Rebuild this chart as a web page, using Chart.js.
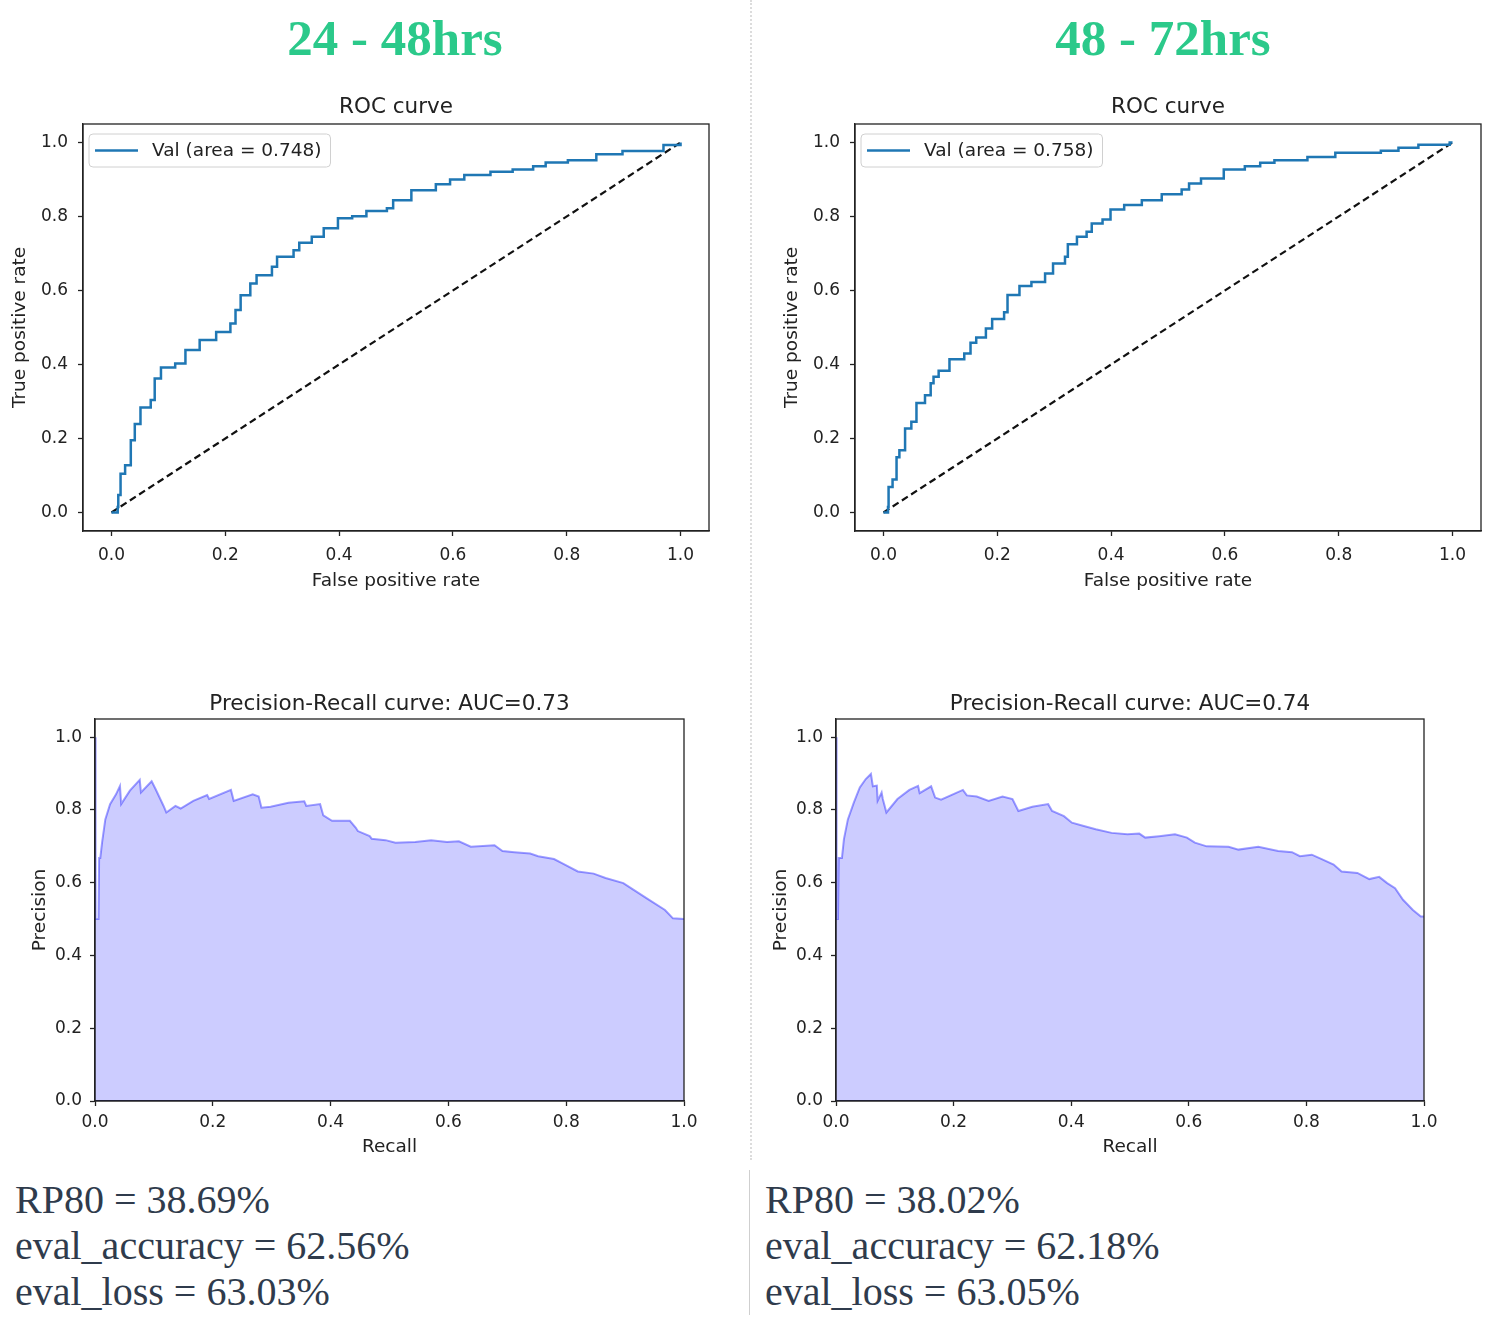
<!DOCTYPE html>
<html>
<head>
<meta charset="utf-8">
<script src="https://cdn.jsdelivr.net/npm/chart.js@4.4.1/dist/chart.umd.min.js"></script>
<style>
  body { margin: 0; background: #fff; width: 1500px; height: 1319px; position: relative; overflow: hidden; }
  canvas { position: absolute; }
  .heading { position: absolute; top: 10px; width: 790px; text-align: center; font: bold 51px "Liberation Serif", serif; line-height: 56px; color: #2bc98a; }
  .stats { position: absolute; top: 1177px; font: 40px "Liberation Serif", serif; line-height: 46px; color: #2f3b4c; white-space: nowrap; }
  .sep-dot { position: absolute; left: 750px; top: 0; height: 1160px; border-left: 2px dotted #dcdcdc; }
  .sep-line { position: absolute; left: 749px; top: 1170px; height: 145px; border-left: 1px solid #cfcfcf; }
</style>
</head>
<body>
<div class="heading" style="left:0">24 - 48hrs</div>
<div class="heading" style="left:768px">48 - 72hrs</div>
<div class="sep-dot"></div>
<div class="sep-line"></div>

<canvas id="roc48" width="728" height="504" style="left:0;top:92px"></canvas>
<canvas id="roc72" width="728" height="504" style="left:772px;top:92px"></canvas>
<canvas id="pr48" width="700" height="472" style="left:20px;top:689px"></canvas>
<canvas id="pr72" width="700" height="472" style="left:761px;top:689px"></canvas>

<div class="stats" style="left:15px">RP80 = 38.69%<br>eval_accuracy = 62.56%<br>eval_loss = 63.03%</div>
<div class="stats" style="left:765px">RP80 = 38.02%<br>eval_accuracy = 62.18%<br>eval_loss = 63.05%</div>

<script>
// tick positions shared by all axes
const tickValues = [0, 0.2, 0.4, 0.6, 0.8, 1.0];

// ROC 24-48hrs (fpr where tpr steps up, new tpr)
const roc48Fpr = [0, 0.011, 0.012, 0.016, 0.024, 0.034, 0.041, 0.051, 0.069, 0.076, 0.087, 0.112, 0.130, 0.155, 0.184, 0.209, 0.218, 0.227, 0.244, 0.255, 0.282, 0.291, 0.320, 0.330, 0.352, 0.373, 0.398, 0.423, 0.448, 0.484, 0.495, 0.527, 0.570, 0.595, 0.620, 0.666, 0.705, 0.741, 0.763, 0.802, 0.852, 0.898, 0.970, 1.0];
const roc48Tpr = [0, 0.015, 0.047, 0.105, 0.128, 0.195, 0.239, 0.284, 0.304, 0.362, 0.392, 0.403, 0.439, 0.466, 0.488, 0.511, 0.547, 0.587, 0.619, 0.641, 0.664, 0.691, 0.709, 0.729, 0.745, 0.768, 0.795, 0.801, 0.815, 0.822, 0.844, 0.871, 0.887, 0.900, 0.912, 0.921, 0.927, 0.936, 0.946, 0.952, 0.968, 0.977, 0.993, 1.0];

// ROC 48-72hrs
const roc72Fpr = [0, 0.008, 0.009, 0.016, 0.023, 0.028, 0.038, 0.049, 0.058, 0.073, 0.083, 0.088, 0.097, 0.116, 0.142, 0.153, 0.163, 0.180, 0.191, 0.212, 0.218, 0.239, 0.260, 0.284, 0.298, 0.319, 0.324, 0.340, 0.357, 0.366, 0.385, 0.399, 0.423, 0.454, 0.489, 0.524, 0.537, 0.558, 0.598, 0.635, 0.662, 0.687, 0.745, 0.794, 0.874, 0.905, 0.940, 0.995, 1.0];
const roc72Tpr = [0, 0.015, 0.069, 0.089, 0.149, 0.168, 0.227, 0.245, 0.296, 0.317, 0.349, 0.367, 0.383, 0.414, 0.430, 0.459, 0.473, 0.497, 0.523, 0.541, 0.588, 0.612, 0.623, 0.646, 0.673, 0.691, 0.725, 0.745, 0.759, 0.781, 0.792, 0.819, 0.831, 0.844, 0.860, 0.873, 0.889, 0.903, 0.927, 0.936, 0.945, 0.952, 0.961, 0.972, 0.978, 0.986, 0.994, 1.0, 1.0];

// Precision-recall 24-48hrs
const pr48Recall = [0, 0.001, 0.006, 0.007, 0.009, 0.012, 0.0175, 0.0256, 0.0357, 0.0424, 0.0444, 0.0592, 0.076, 0.078, 0.0962, 0.103, 0.1164, 0.1211, 0.1366, 0.1454, 0.1669, 0.1904, 0.1938, 0.2308, 0.2355, 0.2678, 0.2779, 0.2826, 0.2981, 0.3284, 0.3553, 0.3587, 0.3822, 0.3876, 0.4024, 0.4327, 0.4428, 0.4462, 0.4664, 0.4697, 0.4933, 0.5101, 0.5437, 0.5707, 0.5976, 0.6178, 0.638, 0.6783, 0.6918, 0.712, 0.7389, 0.7524, 0.7793, 0.7927, 0.8197, 0.8466, 0.8668, 0.897, 0.9139, 0.9408, 0.9677, 0.9812, 1.0];
const pr48Precision = [1.0, 0.5, 0.5, 0.668, 0.668, 0.71, 0.774, 0.816, 0.843, 0.866, 0.816, 0.853, 0.883, 0.848, 0.879, 0.857, 0.811, 0.793, 0.811, 0.804, 0.825, 0.841, 0.83, 0.855, 0.825, 0.843, 0.837, 0.806, 0.809, 0.82, 0.824, 0.811, 0.816, 0.785, 0.77, 0.77, 0.751, 0.742, 0.728, 0.721, 0.717, 0.71, 0.712, 0.717, 0.712, 0.714, 0.699, 0.703, 0.687, 0.684, 0.68, 0.673, 0.665, 0.654, 0.631, 0.625, 0.613, 0.599, 0.581, 0.553, 0.525, 0.502, 0.5];

// Precision-recall 48-72hrs
const pr72Recall = [0, 0.001, 0.0034, 0.0047, 0.0101, 0.0135, 0.0202, 0.0303, 0.0405, 0.0506, 0.0594, 0.0627, 0.0695, 0.0708, 0.0776, 0.0796, 0.0857, 0.1045, 0.1248, 0.1396, 0.1423, 0.1618, 0.1686, 0.1787, 0.1989, 0.2158, 0.2225, 0.2394, 0.2596, 0.2832, 0.3001, 0.3102, 0.3338, 0.3608, 0.3675, 0.3877, 0.4012, 0.4214, 0.4417, 0.4686, 0.4956, 0.5158, 0.5259, 0.5496, 0.5765, 0.5968, 0.6103, 0.6305, 0.6676, 0.6845, 0.7182, 0.7519, 0.7755, 0.789, 0.8092, 0.826, 0.8463, 0.8598, 0.8867, 0.9069, 0.9238, 0.9373, 0.9508, 0.9643, 0.9811, 0.9946, 1.0];
const pr72Precision = [1.0, 0.5, 0.5, 0.668, 0.668, 0.72, 0.774, 0.82, 0.862, 0.885, 0.899, 0.865, 0.867, 0.825, 0.848, 0.83, 0.793, 0.83, 0.855, 0.866, 0.846, 0.865, 0.834, 0.828, 0.843, 0.855, 0.84, 0.837, 0.825, 0.837, 0.83, 0.797, 0.809, 0.816, 0.797, 0.783, 0.765, 0.756, 0.747, 0.737, 0.733, 0.735, 0.724, 0.728, 0.733, 0.724, 0.71, 0.70, 0.699, 0.691, 0.699, 0.687, 0.684, 0.673, 0.677, 0.665, 0.65, 0.631, 0.627, 0.61, 0.616, 0.599, 0.585, 0.553, 0.525, 0.507, 0.507];

const diagonal = [0, 1];

Chart.defaults.font.family = '"DejaVu Sans", sans-serif';
Chart.defaults.color = '#222';

const toPoints = (xs, ys) => xs.map((x, i) => ({ x: x, y: ys[i] }));
const fmt = v => Number(v).toFixed(1);

// matplotlib-ish frame around the plot area
const framePlugin = {
  id: 'frame',
  afterDraw(chart) {
    const { ctx, chartArea: a } = chart;
    ctx.save();
    ctx.strokeStyle = '#222';
    ctx.lineWidth = 1.3;
    ctx.strokeRect(a.left, a.top, a.right - a.left, a.bottom - a.top);
    ctx.restore();
  }
};

// axes title centred over the plot area, not the whole canvas
const plotTitle = {
  id: 'plotTitle',
  afterDraw(chart, args, opts) {
    const { ctx, chartArea: a } = chart;
    ctx.save();
    ctx.font = '21.5px "DejaVu Sans"';
    ctx.fillStyle = '#222';
    ctx.textAlign = 'center';
    ctx.textBaseline = 'middle';
    ctx.fillText(opts.text, (a.left + a.right) / 2, a.top - opts.gap);
    ctx.restore();
  }
};

// legend box drawn inside the axes, upper left
const innerLegend = {
  id: 'innerLegend',
  afterDraw(chart) {
    const ds = chart.data.datasets[0];
    const { ctx, chartArea: a } = chart;
    ctx.save();
    ctx.font = '18.5px "DejaVu Sans"';
    const tw = ctx.measureText(ds.label).width;
    const x = a.left + 6, y = a.top + 10, w = tw + 72, h = 33;
    ctx.fillStyle = 'rgba(255,255,255,0.85)';
    ctx.strokeStyle = '#d0d0d0';
    ctx.lineWidth = 1;
    ctx.beginPath();
    ctx.roundRect(x, y, w, h, 4);
    ctx.fill();
    ctx.stroke();
    ctx.strokeStyle = ds.borderColor;
    ctx.lineWidth = 2.5;
    ctx.beginPath();
    ctx.moveTo(x + 6, y + h / 2);
    ctx.lineTo(x + 49, y + h / 2);
    ctx.stroke();
    ctx.fillStyle = '#222';
    ctx.textBaseline = 'middle';
    ctx.fillText(ds.label, x + 63, y + h / 2 + 1);
    ctx.restore();
  }
};

function axis(opts) {
  return {
    type: 'linear',
    min: opts.min,
    max: opts.max,
    afterBuildTicks: s => { s.ticks = tickValues.map(v => ({ value: v })); },
    afterFit: s => {
      if (opts.width) s.width = opts.width;
      if (opts.height) s.height = opts.height;
    },
    grid: { display: true, drawOnChartArea: false, drawTicks: true, tickLength: 5, tickColor: '#222', tickWidth: 1.3 },
    border: { display: true, color: '#222', width: 1.3 },
    ticks: { font: { size: 17 }, color: '#222', padding: opts.pad, callback: fmt, autoSkip: false, maxRotation: 0 },
    title: { display: true, text: opts.title, font: { size: 18.5 }, color: '#222', padding: opts.titlePad }
  };
}

function rocChart(id, fpr, tpr, label) {
  new Chart(document.getElementById(id), {
    type: 'line',
    data: {
      datasets: [
        { label: label, data: toPoints(fpr, tpr), borderColor: '#1f77b4', borderWidth: 2.5, stepped: 'before', pointRadius: 0, fill: false },
        { label: 'chance', data: toPoints(diagonal, diagonal), borderColor: '#111', borderWidth: 2.2, borderDash: [7, 4], pointRadius: 0, fill: false }
      ]
    },
    options: {
      responsive: false,
      animation: false,
      layout: { padding: { left: 0, right: 19, top: 32, bottom: 0 } },
      plugins: {
        legend: { display: false },
        tooltip: { enabled: false },
        title: { display: false },
        plotTitle: { text: 'ROC curve', gap: 17 }
      },
      scales: {
        x: axis({ min: -0.05, max: 1.05, height: 65, pad: 9, title: 'False positive rate', titlePad: { top: 0, bottom: 4 } }),
        y: axis({ min: -0.05, max: 1.05, width: 83, pad: 10, title: 'True positive rate', titlePad: { top: 9, bottom: 0 } })
      }
    },
    plugins: [framePlugin, innerLegend, plotTitle]
  });
}

function prChart(id, recall, precision, title, rightPad) {
  new Chart(document.getElementById(id), {
    type: 'line',
    data: {
      datasets: [
        { label: 'PR', data: toPoints(recall, precision), borderColor: 'rgba(0,0,255,0.38)', backgroundColor: 'rgba(0,0,255,0.2)', borderWidth: 2, pointRadius: 0, fill: 'origin' }
      ]
    },
    options: {
      responsive: false,
      animation: false,
      layout: { padding: { left: 0, right: rightPad, top: 30, bottom: 0 } },
      plugins: {
        legend: { display: false },
        tooltip: { enabled: false },
        title: { display: false },
        plotTitle: { text: title, gap: 15 }
      },
      scales: {
        x: axis({ min: 0, max: 1, height: 60, pad: 6, title: 'Recall', titlePad: { top: 0, bottom: 3 } }),
        y: axis({ min: 0, max: 1.05, width: 75, pad: 8, title: 'Precision', titlePad: { top: 9, bottom: 0 } })
      }
    },
    plugins: [framePlugin, plotTitle]
  });
}

rocChart('roc48', roc48Fpr, roc48Tpr, 'Val (area = 0.748)');
rocChart('roc72', roc72Fpr, roc72Tpr, 'Val (area = 0.758)');
prChart('pr48', pr48Recall, pr48Precision, 'Precision-Recall curve: AUC=0.73', 36);
prChart('pr72', pr72Recall, pr72Precision, 'Precision-Recall curve: AUC=0.74', 37);
</script>
</body>
</html>
